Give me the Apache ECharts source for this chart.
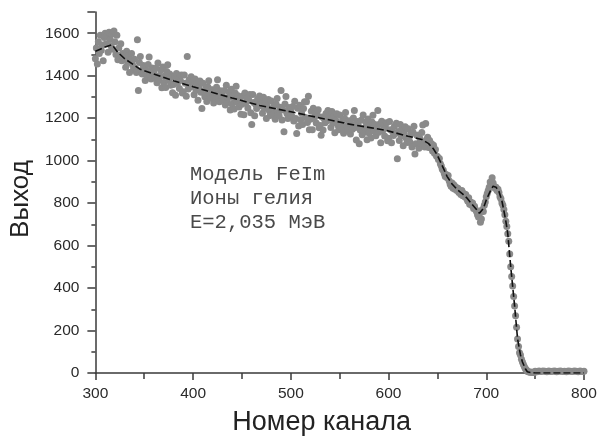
<!DOCTYPE html>
<html>
<head>
<meta charset="utf-8">
<script src="https://cdn.jsdelivr.net/npm/echarts@6/dist/echarts.min.js"></script>
<style>
  html, body { margin: 0; padding: 0; background: #fff; }
  #chart { width: 601px; height: 441px; }
</style>
</head>
<body>
<div id="chart"></div>
<script>
// Measured spectrum: yield per channel, channels 300..749 (one value per channel)
const firstChannel = 300;
const measuredYield = [
  1480, 1530, 1455, 1560, 1505, 1590, 1520, 1545, 1470, 1580,
  1600, 1550, 1585, 1510, 1605, 1570, 1540, 1595, 1525, 1610,
  1560, 1500, 1590, 1475, 1530, 1495, 1550, 1470, 1505, 1485,
  1482, 1440, 1515, 1462, 1495, 1415, 1473, 1505, 1452, 1430,
  1478, 1435, 1415, 1569, 1330, 1462, 1490, 1425, 1408, 1448,
  1440, 1378, 1425, 1400, 1453, 1488, 1408, 1384, 1436, 1418,
  1411, 1389, 1435, 1367, 1460, 1379, 1401, 1427, 1343, 1441,
  1368, 1398, 1345, 1420, 1452, 1378, 1408, 1355, 1395, 1320,
  1358, 1396, 1308, 1410, 1365, 1386, 1340, 1378, 1403, 1318,
  1325, 1403, 1365, 1303, 1490, 1337, 1381, 1347, 1395, 1369,
  1352, 1310, 1385, 1332, 1365, 1285, 1343, 1375, 1322, 1245,
  1364, 1321, 1301, 1341, 1278, 1348, 1376, 1311, 1294, 1334,
  1333, 1271, 1318, 1293, 1346, 1381, 1301, 1277, 1329, 1311,
  1306, 1284, 1330, 1262, 1355, 1274, 1296, 1322, 1238, 1336,
  1266, 1296, 1243, 1318, 1350, 1276, 1306, 1253, 1293, 1218,
  1266, 1304, 1216, 1318, 1273, 1294, 1248, 1286, 1311, 1226,
  1170, 1312, 1274, 1212, 1266, 1246, 1290, 1256, 1304, 1278,
  1265, 1223, 1298, 1245, 1278, 1198, 1256, 1288, 1235, 1213,
  1281, 1238, 1218, 1258, 1195, 1265, 1293, 1228, 1211, 1251,
  1330, 1192, 1239, 1136, 1267, 1302, 1222, 1198, 1250, 1232,
  1231, 1209, 1255, 1187, 1280, 1199, 1128, 1247, 1163, 1261,
  1193, 1223, 1170, 1245, 1277, 1203, 1277, 1180, 1303, 1145,
  1195, 1233, 1145, 1247, 1202, 1223, 1177, 1215, 1240, 1155,
  1166, 1120, 1206, 1144, 1198, 1178, 1222, 1188, 1236, 1210,
  1198, 1156, 1231, 1178, 1211, 1131, 1189, 1221, 1168, 1146,
  1215, 1172, 1152, 1192, 1129, 1199, 1227, 1162, 1145, 1185,
  1188, 1126, 1173, 1148, 1201, 1236, 1156, 1097, 1184, 1166,
  1080, 1144, 1190, 1122, 1215, 1134, 1156, 1182, 1098, 1196,
  1130, 1160, 1107, 1182, 1214, 1140, 1170, 1117, 1157, 1236,
  1134, 1172, 1084, 1186, 1141, 1162, 1116, 1154, 1179, 1094,
  1106, 1184, 1146, 1084, 1138, 1118, 1162, 1128, 1176, 1009,
  1137, 1095, 1170, 1117, 1150, 1070, 1128, 1160, 1107, 1085,
  1150, 1107, 1087, 1127, 1064, 1134, 1162, 1031, 1080, 1120,
  1120, 1058, 1105, 1080, 1133, 1168, 1088, 1064, 1175, 1098,
  1110, 1062, 1095, 1070, 1080, 1045, 1072, 1035, 1052, 1022,
  1020, 1005, 1010, 985, 975, 960, 955, 940, 925, 935,
  920, 930, 905, 890, 880, 895, 870, 885, 865, 875,
  860, 870, 850, 855, 840, 860, 835, 845, 830, 840,
  820, 810, 825, 795, 805, 790, 800, 775, 785, 770,
  760, 745, 735, 750, 710, 725, 770, 760, 790, 805,
  830, 845, 860, 875, 900, 885, 919, 895, 880, 870,
  875, 860, 865, 850, 830, 820, 800, 790, 770, 745,
  715, 690, 656, 620, 560, 500, 455, 410, 360, 316,
  270, 215, 160, 125, 95, 85, 65, 52, 40, 30,
  20, 15, 8, 6, 5, 4, 3, 3, 2, 2
];

// Background tail beyond the edge, every second channel 750..800
const tailChannels = [750, 752, 754, 756, 758, 760, 762, 764, 766, 768, 770, 772, 774,
  776, 778, 780, 782, 784, 786, 788, 790, 792, 794, 796, 798, 800];
const tailYield = [8, 6, 9, 7, 10, 8, 6, 9, 7, 8, 10, 6, 8, 9, 7, 8, 6, 9, 8, 7, 10, 8, 6, 9, 7, 8];

// Model (FeIm) curve
const modelChannels = [300, 305, 310, 317, 323, 330, 346, 365, 380, 400, 414, 440, 468, 500,
  530, 560, 597, 620, 634, 641, 646, 650, 655, 660, 665, 670, 676, 680, 685, 690, 693, 697,
  700, 704, 707, 710, 713, 716, 718, 720, 722, 725, 729, 732, 735, 737, 740, 742, 745, 750, 800];
const modelYield = [1515, 1525, 1535, 1546, 1510, 1480, 1430, 1400, 1376, 1348, 1329, 1295,
  1260, 1230, 1201, 1172, 1143, 1115, 1100, 1080, 1055, 1025, 975, 925, 890, 865, 842, 825,
  797, 770, 752, 775, 815, 855, 880, 875, 855, 810, 765, 715, 656, 501, 316, 161, 85, 52,
  20, 6, 2, 0, 0];

// Axis ticks
const xTicks = [300, 400, 500, 600, 700, 800];
const yTicks = [0, 200, 400, 600, 800, 1000, 1200, 1400, 1600];

const annotationLines = ['Модель FeIm', 'Ионы гелия', 'E=2,035 МэВ'];

const scatterData = measuredYield.map((v, i) => [firstChannel + i, v])
  .concat(tailChannels.map((c, i) => [c, tailYield[i]]));
const modelData = modelChannels.map((c, i) => [c, modelYield[i]]);

const axisColor = '#3a3a3a';
const labelFont = { color: '#2a2a2a', fontSize: 15.5, fontFamily: 'Liberation Sans, Arial, sans-serif' };

const chart = echarts.init(document.getElementById('chart'), null, { renderer: 'canvas' });
chart.setOption({
  animation: false,
  backgroundColor: '#ffffff',
  grid: { left: 89, right: 17, top: 12, bottom: 63, containLabel: false },
  xAxis: {
    type: 'value',
    min: xTicks[0],
    max: xTicks[xTicks.length - 1],
    interval: 100,
    name: 'Номер канала',
    nameLocation: 'middle',
    nameGap: 36,
    nameTextStyle: { fontSize: 27, color: '#222', fontFamily: 'Liberation Sans, Arial, sans-serif', padding: [0, 36, 0, 0] },
    axisLine: { lineStyle: { color: axisColor, width: 1.5 } },
    axisTick: { length: 7, lineStyle: { color: axisColor, width: 1.5 } },
    minorTick: { show: true, splitNumber: 2, length: 6, lineStyle: { color: axisColor, width: 1.5 } },
    axisLabel: Object.assign({ margin: 13 }, labelFont),
    splitLine: { show: false }
  },
  yAxis: {
    type: 'value',
    min: 0,
    max: 1700,
    interval: 200,
    name: 'Выход',
    nameLocation: 'middle',
    nameGap: 51,
    nameTextStyle: { fontSize: 26, color: '#222', fontFamily: 'Liberation Sans, Arial, sans-serif', padding: [0, 13, 0, 0] },
    axisLine: { show: true, lineStyle: { color: axisColor, width: 1.5 } },
    axisTick: { length: 8, lineStyle: { color: axisColor, width: 1.5 } },
    minorTick: { show: true, splitNumber: 2, length: 4, lineStyle: { color: axisColor, width: 1.5 } },
    axisLabel: Object.assign({
      margin: 16,
      showMaxLabel: false,
      formatter: v => (yTicks.indexOf(v) >= 0 ? String(v) : '')
    }, labelFont),
    splitLine: { show: false }
  },
  graphic: annotationLines.map((t, i) => ({
    type: 'text',
    left: 190,
    top: 164 + i * 24,
    style: {
      text: t,
      fill: '#4a4a4a',
      font: '20.5px "Liberation Mono", "Courier New", monospace'
    }
  })),
  series: [
    {
      type: 'scatter',
      data: scatterData,
      symbol: 'circle',
      symbolSize: 7,
      clip: false,
      itemStyle: { color: '#8a8a8a', opacity: 1 },
      z: 2
    },
    {
      type: 'line',
      data: modelData,
      showSymbol: false,
      smooth: false,
      lineStyle: { color: '#111', width: 1.6, type: [7, 3] },
      z: 3
    }
  ]
});
</script>
</body>
</html>
